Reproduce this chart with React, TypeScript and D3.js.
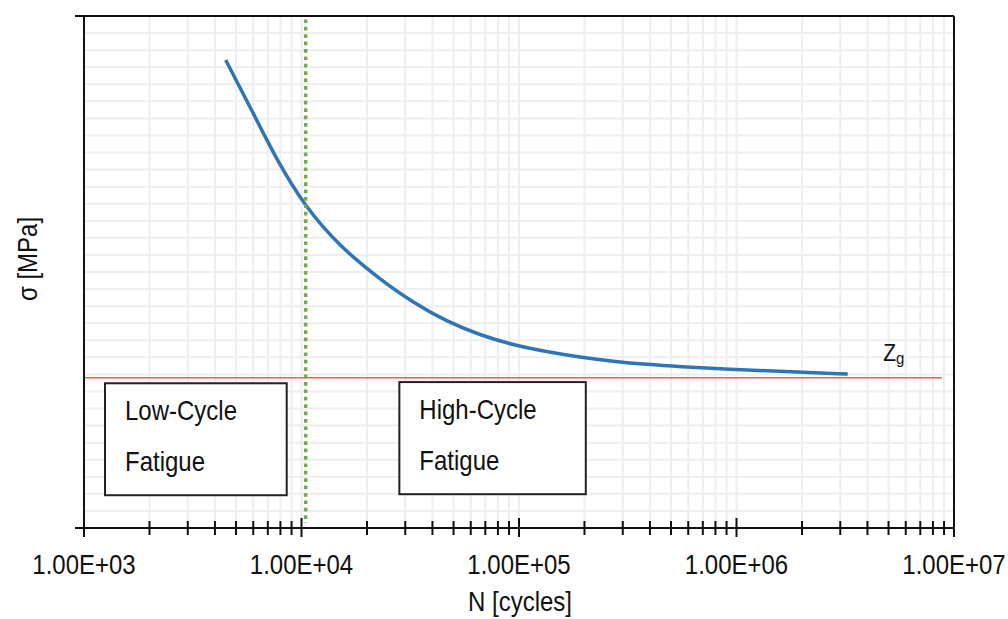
import React from "react";
import * as d3 from "d3";

// ---- data ----
const curveN = [4480, 5794, 7691, 10375, 15031, 22950, 32680, 46530, 66220, 94230, 134000, 190700, 271500, 386400, 549800, 901000, 1825000, 3245000];
const curveSigma = [27.42, 24.69, 21.56, 18.83, 16.48, 14.57, 13.2, 12.1, 11.3, 10.72, 10.33, 10.0, 9.76, 9.58, 9.45, 9.3, 9.15, 9.02];
const enduranceLimit = 8.81;
const enduranceN = [1000, 8800000];
const transitionN = 10450;
const transitionSigma = [29.8, 0.3];
const xTickValues = [1e3, 1e4, 1e5, 1e6, 1e7];
const xTickLabels = ["1.00E+03", "1.00E+04", "1.00E+05", "1.00E+06", "1.00E+07"];
const regionLabels = [["Low-Cycle", "Fatigue"], ["High-Cycle", "Fatigue"]];
const regionN = [[1249, 8551], [28180, 202800]];
const regionSigma = [[8.48, 1.92], [8.55, 1.98]];
const zgLabelN = 4.73e6;
const zgLabelSigma = 9.8;
const yMin = 0;
const yMax = 30;

const FONT = "'Liberation Sans', Arial, sans-serif";
const SY = 1.15;

function T({ x, y, children, size = 24, anchor = "start", rotate = 0 }: any) {
  return (
    <g transform={`translate(${x},${y}) rotate(${rotate}) scale(1,${SY})`}>
      <text x={0} y={0} fontSize={size} fontFamily={FONT} textAnchor={anchor} fill="#111">
        {children}
      </text>
    </g>
  );
}

export default function App() {
  const W = 1008, H = 619;
  const left = 84, right = 954, top = 16, bottom = 528;
  const x = d3.scaleLog().domain([1e3, 1e7]).range([left, right]);
  const y = d3.scaleLinear().domain([yMin, yMax]).range([bottom, top]);

  const minorX: number[] = [];
  for (let e = 3; e < 7; e++) for (let m = 1; m <= 9; m++) minorX.push(m * Math.pow(10, e));
  minorX.push(1e7);
  const gridY = d3.range(yMin, yMax + 1, 1);

  const line = d3
    .line<number>()
    .x((_, i) => x(curveN[i]))
    .y((d) => y(d))
    .curve(d3.curveBasis);

  return (
    <svg width={W} height={H} style={{ position: "absolute", left: 0, top: 0, background: "#fff" }}>
      {/* grid */}
      <g stroke="#eeeeee" strokeWidth={2}>
        {minorX.map((v, i) => (
          <line key={"gx" + i} x1={x(v)} x2={x(v)} y1={top} y2={bottom} />
        ))}
        {gridY.map((v, i) => (
          <line key={"gy" + i} x1={left} x2={right} y1={y(v)} y2={y(v)} />
        ))}
      </g>

      {/* endurance limit */}
      <line x1={x(enduranceN[0])} x2={x(enduranceN[1])} y1={y(enduranceLimit)} y2={y(enduranceLimit)} stroke="#f05a5a" strokeWidth={1.5} />

      {/* curve */}
      <path d={line(curveSigma) || ""} fill="none" stroke="#2e75b6" strokeWidth={3.5} />

      {/* transition line */}
      <line x1={x(transitionN)} x2={x(transitionN)} y1={y(transitionSigma[0])} y2={y(transitionSigma[1])} stroke="#70ad47" strokeWidth={3.5} strokeDasharray="3.7,3.7" />

      {/* region boxes */}
      {regionLabels.map((lab, i) => {
        const x0 = x(regionN[i][0]), x1 = x(regionN[i][1]);
        const y0 = y(regionSigma[i][0]), y1 = y(regionSigma[i][1]);
        return (
          <g key={"box" + i}>
            <rect x={x0} y={y0} width={x1 - x0} height={y1 - y0} fill="#fff" stroke="#222" strokeWidth={2} />
            <T x={x0 + 20} y={y0 + 37}>{lab[0]}</T>
            <T x={x0 + 20} y={y0 + 88}>{lab[1]}</T>
          </g>
        );
      })}

      {/* Zg label */}
      <g transform={`translate(${x(zgLabelN)},${y(zgLabelSigma)}) scale(1,${SY})`}>
        <text fontFamily={FONT} fontSize={21} fill="#111">
          Z<tspan fontSize={15} dy={3}>g</tspan>
        </text>
      </g>

      {/* axes / border */}
      <g stroke="#111" strokeWidth={2} fill="none">
        <line x1={left - 9} x2={right} y1={top} y2={top} />
        <line x1={left - 9} x2={right} y1={bottom} y2={bottom} />
        <line x1={left} x2={left} y1={top} y2={bottom + 9} />
        <line x1={right} x2={right} y1={top} y2={bottom + 9} />
        {minorX.map((v, i) => {
          const major = xTickValues.includes(v);
          if (v === 1e3 || v === 1e7) return null;
          return <line key={"t" + i} x1={x(v)} x2={x(v)} y1={major ? bottom - 10 : bottom - 7} y2={major ? bottom + 9 : bottom + 7} />;
        })}
      </g>

      {/* tick labels */}
      {xTickValues.map((v, i) => (
        <T key={"xl" + i} x={x(v)} y={574} anchor="middle">{xTickLabels[i]}</T>
      ))}

      {/* axis titles */}
      <T x={520} y={611} anchor="middle">N [cycles]</T>
      <T x={37} y={259} anchor="middle" rotate={-90}>σ [MPa]</T>
    </svg>
  );
}
